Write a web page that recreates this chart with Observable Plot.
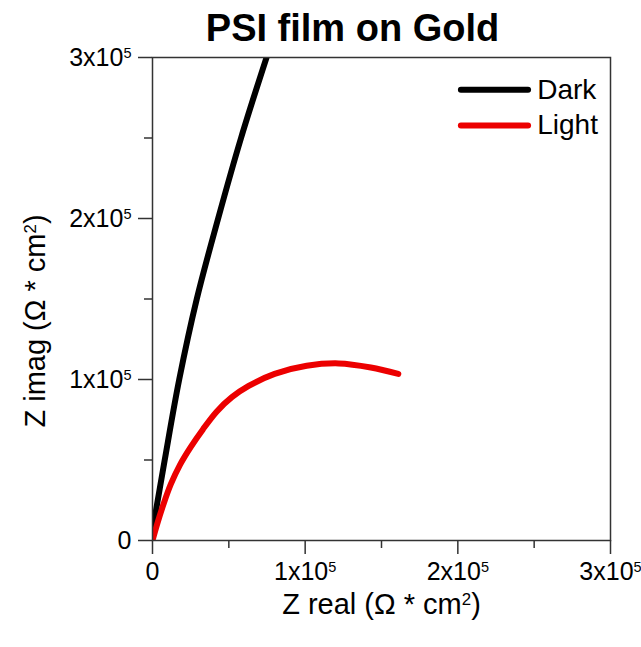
<!DOCTYPE html>
<html>
<head>
<meta charset="utf-8">
<script src="https://cdn.jsdelivr.net/npm/d3@7"></script>
<script src="https://cdn.jsdelivr.net/npm/@observablehq/plot@0.6"></script>
<style>
  body { margin: 0; background: #fff; }
  #chart svg { font-family: "Liberation Sans", Arial, sans-serif; }
</style>
</head>
<body>
<div id="chart"></div>
<script>
// Nyquist curves of a PSI film on gold, in the dark and under illumination
const darkReal  = [0, 0.08e5, 0.175e5, 0.29e5, 0.43e5, 0.58e5, 0.747e5];
const darkImag  = [0.06e5, 0.5e5, 1.0e5, 1.5e5, 2.0e5, 2.5e5, 3.0e5];
const lightReal = [0, 0.03e5, 0.07e5, 0.12e5, 0.18e5, 0.25e5, 0.33e5, 0.42e5, 0.52e5, 0.63e5, 0.80e5, 1.01e5, 1.22e5, 1.43e5, 1.61e5];
const lightImag = [0, 0.10e5, 0.22e5, 0.35e5, 0.47e5, 0.58e5, 0.69e5, 0.80e5, 0.89e5, 0.96e5, 1.035e5, 1.085e5, 1.10e5, 1.075e5, 1.035e5];

const seriesNames  = ["Dark", "Light"];
const seriesColors = ["#000000", "#ec0000"];

const majorTicks = [0, 1e5, 2e5, 3e5];
const minorTicks = [0.5e5, 1.5e5, 2.5e5];

const titleText = "PSI film on Gold";
const xLabel = "Z real (Ω * cm^2)";
const yLabel = "Z imag (Ω * cm^2)";

const rows = [
  ...darkReal.map((x, i) => ({series: "Dark", x, y: darkImag[i]})),
  ...lightReal.map((x, i) => ({series: "Light", x, y: lightImag[i]}))
];

// legend rows, placed in the upper right of the plotting area
const legendRows = seriesNames.map((name, i) => ({
  name, x1: 2.02e5, x2: 2.46e5, xt: 2.52e5, y: 2.80e5 - i * 0.222e5
}));

const sciFormat = d => d === 0 ? "0" : `${d / 1e5}x10^5`;
const axisStroke = "#333";

const plot = Plot.plot({
  width: 641,
  height: 647,
  marginLeft: 152,
  marginRight: 31,
  marginTop: 57,
  marginBottom: 107,
  style: {background: "#fff", color: "#000", fontFamily: "Liberation Sans, Arial, sans-serif"},
  x: {domain: [0, 3e5]},
  y: {domain: [0, 3e5]},
  color: {domain: seriesNames, range: seriesColors},
  marks: [
    Plot.axisX(minorTicks, {tickSize: 8, tickFormat: () => "", label: null, stroke: axisStroke, strokeWidth: 1.5}),
    Plot.axisY(minorTicks, {tickSize: 8, tickFormat: () => "", label: null, stroke: axisStroke, strokeWidth: 1.5}),
    Plot.axisX(majorTicks, {tickSize: 14, tickPadding: 8, tickFormat: sciFormat, label: null, fontSize: 25, stroke: axisStroke, strokeWidth: 1.5}),
    Plot.axisY(majorTicks, {tickSize: 14, tickPadding: 7, tickFormat: sciFormat, label: null, fontSize: 25, stroke: axisStroke, strokeWidth: 1.5}),
    Plot.line(rows, {x: "x", y: "y", z: "series", stroke: "series", strokeWidth: 6, curve: "catmull-rom", clip: true, strokeLinejoin: "round", strokeLinecap: "round"}),
    Plot.frame({stroke: axisStroke, strokeWidth: 1.5}),
    Plot.link(legendRows, {x1: "x1", x2: "x2", y1: "y", y2: "y", stroke: "name", strokeWidth: 6, strokeLinecap: "round"}),
    Plot.text(legendRows, {x: "xt", y: "y", text: "name", textAnchor: "start", fontSize: 28, fill: "#000"}),
    Plot.text([titleText], {frameAnchor: "top", lineAnchor: "middle", dx: -29, dy: -29, fontSize: 38, fontWeight: "bold", fill: "#000"}),
    Plot.text([xLabel], {frameAnchor: "bottom", lineAnchor: "middle", dy: 64, fontSize: 29, fill: "#000"}),
    Plot.text([yLabel], {frameAnchor: "left", textAnchor: "middle", lineAnchor: "middle", dx: -117, dy: 22, rotate: -90, fontSize: 29, fill: "#000"})
  ]
});

// turn "a^b" into a raised, smaller superscript
d3.select(plot).selectAll("text").each(function() {
  const el = d3.select(this);
  const s = el.text();
  if (!s.includes("^")) return;
  const m = s.match(/^(.*)\^(\w)(.*)$/);
  el.text(null);
  el.append("tspan").text(m[1]);
  el.append("tspan").attr("dy", "-0.55em").attr("font-size", "0.58em").text(m[2]);
  if (m[3]) el.append("tspan").attr("dy", "0.32em").text(m[3]);
});

document.getElementById("chart").appendChild(plot);
</script>
</body>
</html>
